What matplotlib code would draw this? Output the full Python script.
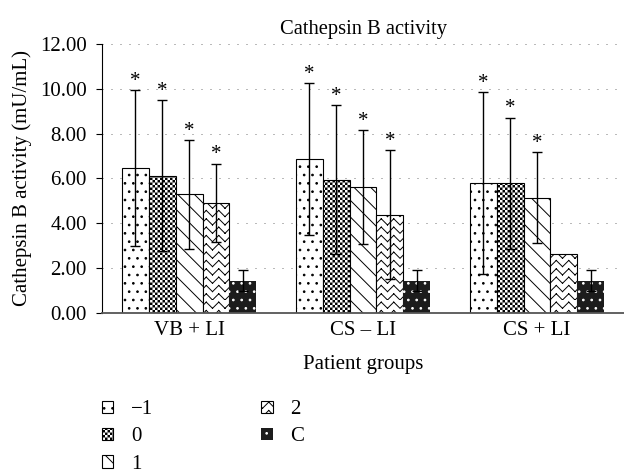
import warnings
import numpy as np
import matplotlib
matplotlib.use('Agg')
import matplotlib.pyplot as plt
from matplotlib import hatch as mhatch
from matplotlib.path import Path

warnings.filterwarnings('ignore', message='hatch must consist')

#===============================================================================
# Data
#===============================================================================
groups = ['VB + LI', 'CS \u2013 LI', 'CS + LI']
levels = ['\u22121', '0', '1', '2', 'C']

mean_m1 = [6.47, 6.87, 5.80]
sd_m1 = [3.48, 3.39, 4.07]
mean_0 = [6.12, 5.93, 5.77]
sd_0 = [3.38, 3.33, 2.94]
mean_1 = [5.28, 5.61, 5.13]
sd_1 = [2.44, 2.55, 2.04]
mean_2 = [4.91, 4.38, 2.61]
sd_2 = [1.75, 2.88, np.nan]
mean_c = [1.43, 1.43, 1.43]
sd_c = [0.48, 0.48, 0.48]

star_m1 = [1, 1, 1]
star_0 = [1, 1, 1]
star_1 = [1, 1, 1]
star_2 = [1, 1, 0]
star_c = [0, 0, 0]


#===============================================================================
# Extra hatch patterns: zigzag and fine checkerboard
#===============================================================================
class ZigZagHatch(mhatch.HatchPatternBase):
    # stacked chevrons, drawn as separate segments so nothing gets filled
    def __init__(self, hatch, density):
        self.rows = 12 * hatch.count('z')
        self.segs = 16
        self.num_vertices = self.rows * self.segs * 2

    def set_vertices_and_codes(self, vertices, codes):
        xs = np.linspace(0, 1, self.segs + 1)
        ys = np.where(np.arange(self.segs + 1) % 2, 1.0 / self.segs, 0.0)
        k = 0
        for i in range(self.rows):
            y0 = i / self.rows
            for j in range(self.segs):
                vertices[k] = (xs[j], y0 + ys[j])
                vertices[k + 1] = (xs[j + 1], y0 + ys[j + 1])
                codes[k] = Path.MOVETO
                codes[k + 1] = Path.LINETO
                k += 2


class CheckerHatch(mhatch.HatchPatternBase):
    def __init__(self, hatch, density):
        self.cells = 40 * hatch.count('k')
        self.num_vertices = (self.cells ** 2 // 2) * 5

    def set_vertices_and_codes(self, vertices, codes):
        c = 1.0 / self.cells
        s = 0.3 * c
        ii, jj = np.meshgrid(np.arange(self.cells), np.arange(self.cells))
        mask = (ii + jj) % 2 == 0
        centers = np.stack([(ii[mask] + 0.5) * c, (jj[mask] + 0.5) * c], axis=1)
        sq = np.array([[-1, -1], [1, -1], [1, 1], [-1, 1], [-1, -1]]) * s
        vertices[:] = (centers[:, None, :] + sq[None]).reshape(-1, 2)
        codes[:] = np.tile([Path.MOVETO, Path.LINETO, Path.LINETO,
                            Path.LINETO, Path.CLOSEPOLY], len(centers))


mhatch._hatch_types.append(ZigZagHatch)
mhatch._hatch_types.append(CheckerHatch)

plt.rcParams['font.family'] = ['Liberation Serif', 'DejaVu Serif']
plt.rcParams['hatch.linewidth'] = 0.7

#===============================================================================
# Plot
#===============================================================================
fig = plt.figure(figsize=(6.24, 4.73), dpi=100)
ax = fig.add_axes([0.1635, 0.339, 0.8365, 0.568])

x = np.arange(len(groups)) + 0.5
w = 0.155

series = [
    (mean_m1, sd_m1, star_m1, 'white', 'black', '..'),
    (mean_0, sd_0, star_0, 'white', 'black', 'k'),
    (mean_1, sd_1, star_1, 'white', 'black', '\\\\'),
    (mean_2, sd_2, star_2, 'white', 'black', 'z'),
    (mean_c, sd_c, star_c, '#1c1c1c', 'white', '..'),
]

for k, (m, s, st, face, edge, hatch) in enumerate(series):
    m = np.array(m)
    s = np.array(s)
    pos = x + (k - 2) * w
    ax.bar(pos, m, w, color=face, edgecolor=edge, hatch=hatch,
           linewidth=0.8 if edge == 'black' else 0, zorder=2, label=levels[k])
    ok = ~np.isnan(s)
    ax.errorbar(pos[ok], m[ok], yerr=s[ok], fmt='none', ecolor='black',
                elinewidth=1.0, capsize=3.5, capthick=1.0, zorder=3)
    for p, mv, sv, flag in zip(pos, m, s, st):
        if flag:
            ax.annotate('*', (p, mv + sv), xytext=(0, 3),
                        textcoords='offset points', ha='center',
                        va='baseline', fontsize=15, zorder=4)

ax.set_xlim(0, 3)
ax.set_ylim(0, 12)
ax.set_xticks(x)
ax.set_xticklabels(groups)
ax.set_yticks(np.arange(0, 13, 2))
ax.set_yticklabels(['%.2f' % v for v in np.arange(0, 13, 2)])
ax.tick_params(axis='y', length=4, width=0.8, pad=7, labelsize=15)
ax.tick_params(axis='x', length=0, pad=6, labelsize=15)

ax.yaxis.grid(True, color='#777777', linestyle=(0, (1, 8)), linewidth=0.72)
ax.set_axisbelow(True)
for side in ['top', 'right']:
    ax.spines[side].set_visible(False)
ax.spines['left'].set_linewidth(0.8)
ax.spines['bottom'].set_color('#555555')
ax.spines['bottom'].set_linewidth(1.3)

ax.set_title('Cathepsin B activity', fontsize=14.8, pad=7.5)
ax.set_ylabel('Cathepsin B activity (mU/mL)', fontsize=15, labelpad=6)
ax.set_xlabel('Patient groups', fontsize=15, labelpad=10.5)

fig.legend(loc='upper left', bbox_to_anchor=(0.163, 0.154), ncol=2,
           frameon=False, fontsize=15, handlelength=0.55, handleheight=0.55,
           handletextpad=0.85, columnspacing=5.2, labelspacing=0.4,
           borderaxespad=0, borderpad=0)

fig.savefig('out.png', dpi=100)
